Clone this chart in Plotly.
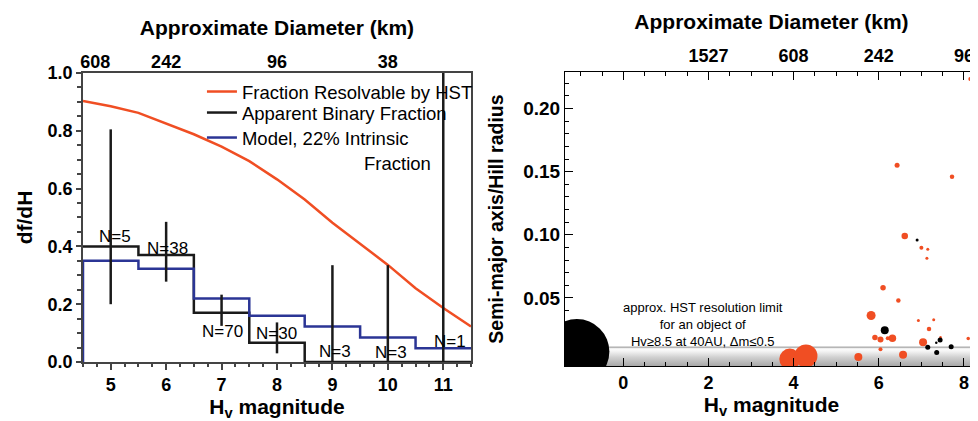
import plotly.graph_objects as go

# ---------------- Left panel data ----------------
bin_centers = [5, 6, 7, 8, 9, 10, 11]
bin_edges = [4.5, 5.5, 6.5, 7.5, 8.5, 9.5, 10.5, 11.5]
apparent_frac = [0.40, 0.37, 0.17, 0.067, 0.0, 0.0, 0.0]
apparent_err_plus = [0.405, 0.115, 0.063, 0.070, 0.335, 0.335, 1.0]
apparent_err_minus = [0.20, 0.092, 0.045, 0.037, 0.0, 0.0, 0.0]
model_frac = [0.35, 0.323, 0.22, 0.16, 0.123, 0.085, 0.048]
n_labels = ["N=5", "N=38", "N=70", "N=30", "N=3", "N=3", "N=1"]
n_label_x = [5.08, 6.03, 7.01, 8.0, 9.05, 10.06, 11.13]
n_label_y = [0.435, 0.392, 0.106, 0.097, 0.036, 0.032, 0.07]

hst_H = [4.5, 5.0, 5.5, 6.0, 6.5, 7.0, 7.5, 8.0, 8.5, 9.0, 9.5, 10.0, 10.5, 11.0, 11.5]
hst_frac = [0.903, 0.885, 0.862, 0.826, 0.788, 0.745, 0.695, 0.632, 0.562,
            0.482, 0.410, 0.336, 0.255, 0.187, 0.123]

left_top_tickvals = [4.72, 6, 8, 10]
left_top_ticktext = ["608", "242", "96", "38"]

# ---------------- Right panel data ----------------
orange_H = [3.91, 4.29, 6.10, 6.46, 5.82, 5.91, 6.04, 6.21, 6.32, 6.04, 5.52, 6.57,
            6.93, 7.29, 7.18, 7.04, 7.45, 8.10, 6.43, 7.72, 6.61, 7.00, 7.15, 7.13, 8.15]
orange_ratio = [0.0015, 0.004, 0.058, 0.048, 0.036, 0.0185, 0.017, 0.018, 0.018, 0.0093,
                0.0032, 0.005, 0.032, 0.0327, 0.0254, 0.0148, 0.0188, 0.0177, 0.155,
                0.146, 0.099, 0.0898, 0.0885, 0.0814, 0.2235]
orange_size = [21, 23, 5.5, 4.5, 9, 5.5, 6, 4, 7.5, 4, 8, 8,
               3, 3, 4.5, 8, 2.5, 3.5, 5, 4.5, 6.5, 4, 3, 3, 4]

black_H = [-1.09, 6.14, 6.90, 7.35, 7.44, 7.15, 7.36, 7.70]
black_ratio = [0.0074, 0.0243, 0.0959, 0.0145, 0.0166, 0.0108, 0.0066, 0.0113]
black_size = [65, 8, 3, 2.5, 5, 5, 5, 5]

hst_limit = 0.011
right_xrange = [-1.37, 8.33]
right_yrange = [-0.004, 0.229]

right_bottom_tickvals = [0, 2, 4, 6, 8]
right_top_ticktext = ["", "1527", "608", "242", "96"]
right_y_tickvals = [0.05, 0.10, 0.15, 0.20]

FONT = "Liberation Sans, Arial, Helvetica, sans-serif"
ORANGE = "#f04e23"
BLUE = "#2b3595"
AX = "#444444"

fig = go.Figure()

# Left panel traces
fig.add_trace(go.Scatter(x=hst_H, y=hst_frac, mode="lines", name="Fraction Resolvable by HST",
                         line=dict(color=ORANGE, width=2.5), xaxis="x", yaxis="y",
                         legend="legend"))
fig.add_trace(go.Scatter(x=bin_edges, y=apparent_frac + [apparent_frac[-1]], mode="lines",
                         line_shape="hv", name="Apparent Binary Fraction",
                         line=dict(color="#1a1a1a", width=2.5), xaxis="x", yaxis="y",
                         legend="legend2"))
fig.add_trace(go.Scatter(x=[bin_edges[0]] + bin_edges, y=[0] + model_frac + [model_frac[-1]],
                         mode="lines", line_shape="hv",
                         name="Model, 22% Intrinsic",
                         line=dict(color=BLUE, width=2.5), xaxis="x", yaxis="y",
                         legend="legend3"))
fig.add_trace(go.Scatter(x=bin_centers, y=apparent_frac, mode="markers",
                         marker=dict(size=1, opacity=0), showlegend=False, hoverinfo="skip",
                         error_y=dict(type="data", symmetric=False, array=apparent_err_plus,
                                      arrayminus=apparent_err_minus, width=0,
                                      thickness=2.5, color="#1a1a1a"),
                         xaxis="x", yaxis="y"))
fig.add_trace(go.Scatter(x=left_top_tickvals, y=[None] * len(left_top_tickvals), mode="markers",
                         showlegend=False, hoverinfo="skip", xaxis="x3", yaxis="y"))

# Right panel traces
fig.add_trace(go.Scatter(x=right_xrange, y=[right_yrange[0]] * 2, mode="lines",
                         line=dict(width=0, color="rgba(0,0,0,0)"), showlegend=False,
                         hoverinfo="skip", xaxis="x2", yaxis="y2"))
fig.add_trace(go.Scatter(x=right_xrange, y=[hst_limit] * 2, mode="lines", fill="tonexty",
                         line=dict(width=1, color="#a0a0a0"),
                         fillgradient=dict(type="vertical",
                                           colorscale=[[0, "#a8a8a8"], [0.45, "#cfcfcf"],
                                                       [0.8, "#f6f6f6"], [0.9, "#fbfbfb"],
                                                       [1, "#c8c8c8"]]),
                         showlegend=False, hoverinfo="skip", xaxis="x2", yaxis="y2"))
fig.add_trace(go.Scatter(x=orange_H, y=orange_ratio, mode="markers",
                         marker=dict(color=ORANGE, size=orange_size, opacity=1, line=dict(width=0)),
                         showlegend=False, xaxis="x2", yaxis="y2"))
fig.add_trace(go.Scatter(x=black_H, y=black_ratio, mode="markers",
                         marker=dict(color="black", size=black_size, opacity=1, line=dict(width=0)),
                         showlegend=False, xaxis="x2", yaxis="y2"))
fig.add_trace(go.Scatter(x=right_bottom_tickvals, y=[None] * len(right_bottom_tickvals),
                         mode="markers", showlegend=False, hoverinfo="skip",
                         xaxis="x4", yaxis="y2"))

bold_tick = dict(family=FONT, size=18, color="black", weight="bold")
bold_tick_y2 = dict(family=FONT, size=19, color="black", weight="bold")
bold_title = dict(family=FONT, size=21, color="black", weight="bold")
bold_title_y2 = dict(family=FONT, size=19.5, color="black", weight="bold")
legend_font = dict(family=FONT, size=18.5, color="black")

annotations = []
for t, x, y in zip(n_labels, n_label_x, n_label_y):
    annotations.append(dict(text=t, x=x, y=y, xref="x", yref="y", showarrow=False,
                            font=dict(family=FONT, size=17, color="black")))
# continuation line of the third legend entry
annotations.append(dict(text="Fraction", x=0.3117, y=0.690, xref="paper", yref="paper",
                        xanchor="left", yanchor="middle", showarrow=False, font=legend_font))
annotations.append(dict(text="approx. HST resolution limit<br>for an object of<br>Hv≥8.5 at 40AU, Δm≤0.5",
                        x=1.88, y=0.0290, xref="x2", yref="y2", showarrow=False,
                        font=dict(family=FONT, size=13, color="black")))


def legend_row(yc):
    return dict(x=0.1329, y=yc, xanchor="left", yanchor="middle", bgcolor="rgba(0,0,0,0)",
                font=legend_font)


# The page body adds an 8px margin; the figure is sized so it ends at the window edges.
fig.update_layout(
    width=970, height=413,
    margin=dict(l=75, r=0, t=64, b=55),
    paper_bgcolor="white", plot_bgcolor="white",
    font=dict(family=FONT, color="black"),
    showlegend=True,
    legend=legend_row(0.932),
    legend2=legend_row(0.8605),
    legend3=legend_row(0.7755),
    annotations=annotations,
    xaxis=dict(domain=[0, 0.4335], range=[4.5, 11.5], anchor="y",
               tickvals=bin_centers, ticks="outside", ticklen=6, tickwidth=1.5, tickcolor=AX,
               minor=dict(dtick=0.25, tick0=4.5, ticks="outside", ticklen=3, tickcolor=AX),
               showline=True, linecolor=AX, linewidth=1.5, mirror=True,
               showgrid=False, zeroline=False, tickfont=bold_tick,
               title=dict(text="H<sub>v</sub> magnitude", font=bold_title, standoff=10)),
    yaxis=dict(domain=[0.0136, 0.9966], range=[0, 1], anchor="x",
               tickvals=[0, 0.2, 0.4, 0.6, 0.8, 1.0],
               ticktext=["0.0", "0.2", "0.4", "0.6", "0.8", "1.0"],
               ticks="outside", ticklen=5, tickwidth=1.5, tickcolor=AX,
               minor=dict(dtick=0.05, tick0=0, ticks="outside", ticklen=4, tickcolor=AX),
               showline=True, linecolor=AX, linewidth=1.5, mirror=True,
               showgrid=False, zeroline=False, tickfont=bold_tick,
               title=dict(text="df/dH", font=bold_title, standoff=9)),
    xaxis3=dict(overlaying="x", anchor="y", side="top", range=[4.5, 11.5],
                tickvals=left_top_tickvals, ticktext=left_top_ticktext, ticks="",
                showline=False, showgrid=False, zeroline=False, tickfont=bold_tick,
                title=dict(text="Approximate Diameter (km)", font=bold_title, standoff=11)),
    xaxis2=dict(domain=[0.5385, 1], range=right_xrange, anchor="y2",
                tickvals=right_bottom_tickvals, ticks="inside", ticklen=8, tickwidth=1, tickcolor="black",
                minor=dict(dtick=0.5, tick0=0, ticks="inside", ticklen=4, tickcolor="black"),
                showline=True, linecolor="black", linewidth=1, mirror=True,
                showgrid=False, zeroline=False, tickfont=bold_tick,
                title=dict(text="H<sub>v</sub> magnitude", font=bold_title, standoff=4)),
    yaxis2=dict(domain=[0, 1], range=right_yrange, anchor="x2",
                tickvals=right_y_tickvals, ticktext=["0.05", "0.10", "0.15", "0.20"],
                ticks="inside", ticklen=8, tickwidth=1, tickcolor="black",
                minor=dict(dtick=0.01, tick0=0, ticks="inside", ticklen=4, tickcolor="black"),
                showline=True, linecolor="black", linewidth=1, mirror="ticks",
                showgrid=False, zeroline=False, tickfont=bold_tick_y2,
                title=dict(text="Semi-major axis/Hill radius", font=bold_title_y2, standoff=14)),
    xaxis4=dict(overlaying="x2", anchor="y2", side="top", range=right_xrange,
                tickvals=right_bottom_tickvals, ticktext=right_top_ticktext,
                ticks="inside", ticklen=8, tickwidth=1, tickcolor="black",
                minor=dict(dtick=0.5, tick0=0, ticks="inside", ticklen=4, tickcolor="black"),
                showline=False, showgrid=False, zeroline=False, tickfont=bold_tick,
                ticklabelstandoff=5,
                title=dict(text="Approximate Diameter (km)", font=bold_title, standoff=11)),
)

fig.write_html("out.html")
